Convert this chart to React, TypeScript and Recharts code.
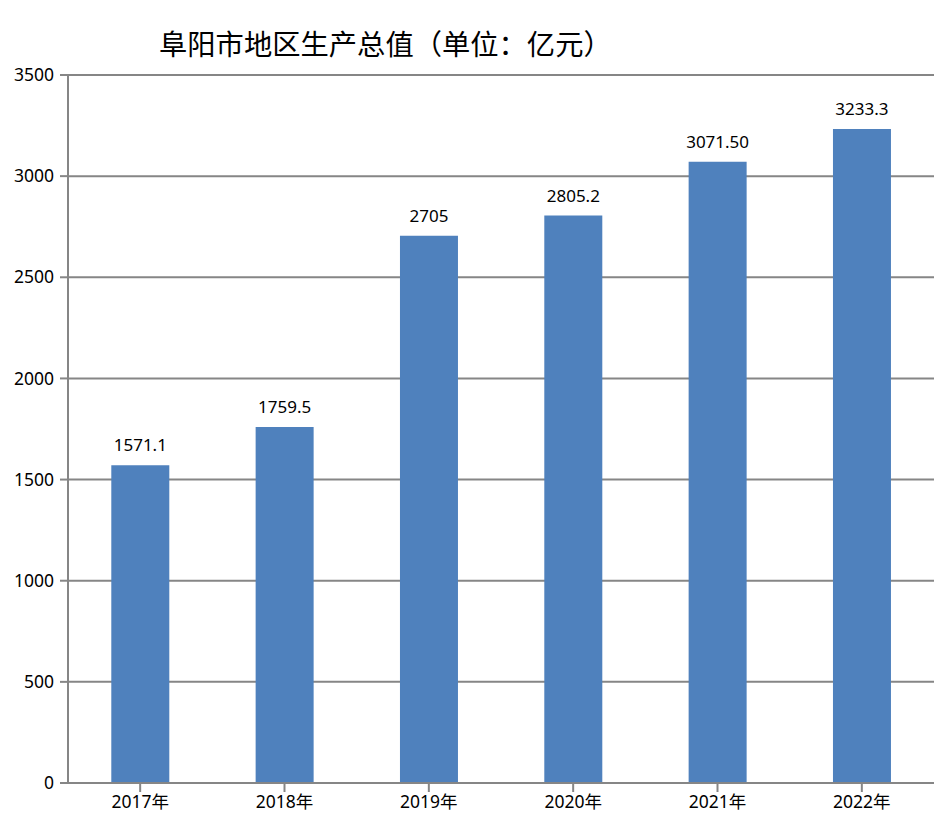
import { BarChart, Bar, XAxis, YAxis, CartesianGrid, LabelList } from "recharts"

const years = ["2017年", "2018年", "2019年", "2020年", "2021年", "2022年"]
const gdpValues = [1571.1, 1759.5, 2705, 2805.2, 3071.5, 3233.3]
const gdpLabels = ["1571.1", "1759.5", "2705", "2805.2", "3071.50", "3233.3"]
const yTicks = [0, 500, 1000, 1500, 2000, 2500, 3000, 3500]

const BAR_COLOR = "#4F81BD"
const AXIS_COLOR = "#868686"
const FONT = "'Noto Sans', 'Noto Sans CJK SC', sans-serif"

const data = years.map((y, i) => ({ year: y, value: gdpValues[i], label: gdpLabels[i] }))

export default function App() {
  return (
    <div style={{ position: "relative", width: 936, height: 820 }}>
      <div
        style={{
          position: "absolute",
          left: 151,
          top: 14,
          fontFamily: "'Noto Sans CJK SC', sans-serif",
          fontSize: 28.3,
          color: "#000",
          whiteSpace: "nowrap",
        }}
      >
        阜阳市地区生产总值（单位：亿元）
      </div>
      <BarChart
        width={936}
        height={820}
        data={data}
        margin={{ top: 67, right: 10, bottom: 10, left: 0 }}
        barCategoryGap="30%"
      >
        <CartesianGrid vertical={false} stroke={AXIS_COLOR} strokeWidth={2} />
        <XAxis
          dataKey="year"
          height={35}
          stroke={AXIS_COLOR}
          strokeWidth={2}
          tickSize={9}
          fontSize={17.5}
          fontFamily={FONT}
          tick={{ fill: "#000", fontSize: 17.5, fontFamily: FONT }}
          tickMargin={4}
          interval={0}
        />
        <YAxis
          width={60}
          domain={[0, 3500]}
          ticks={yTicks}
          interval={0}
          stroke={AXIS_COLOR}
          strokeWidth={2}
          tickSize={8}
          tickMargin={6}
          fontSize={17.5}
          fontFamily={FONT}
          tick={{ fill: "#000", fontSize: 17.5, fontFamily: FONT }}
        />
        <Bar dataKey="value" fill={BAR_COLOR} isAnimationActive={false}>
          <LabelList
            dataKey="label"
            position="top"
            offset={14}
            style={{ fill: "#000", fontSize: 17, fontFamily: FONT }}
          />
        </Bar>
      </BarChart>
    </div>
  )
}
